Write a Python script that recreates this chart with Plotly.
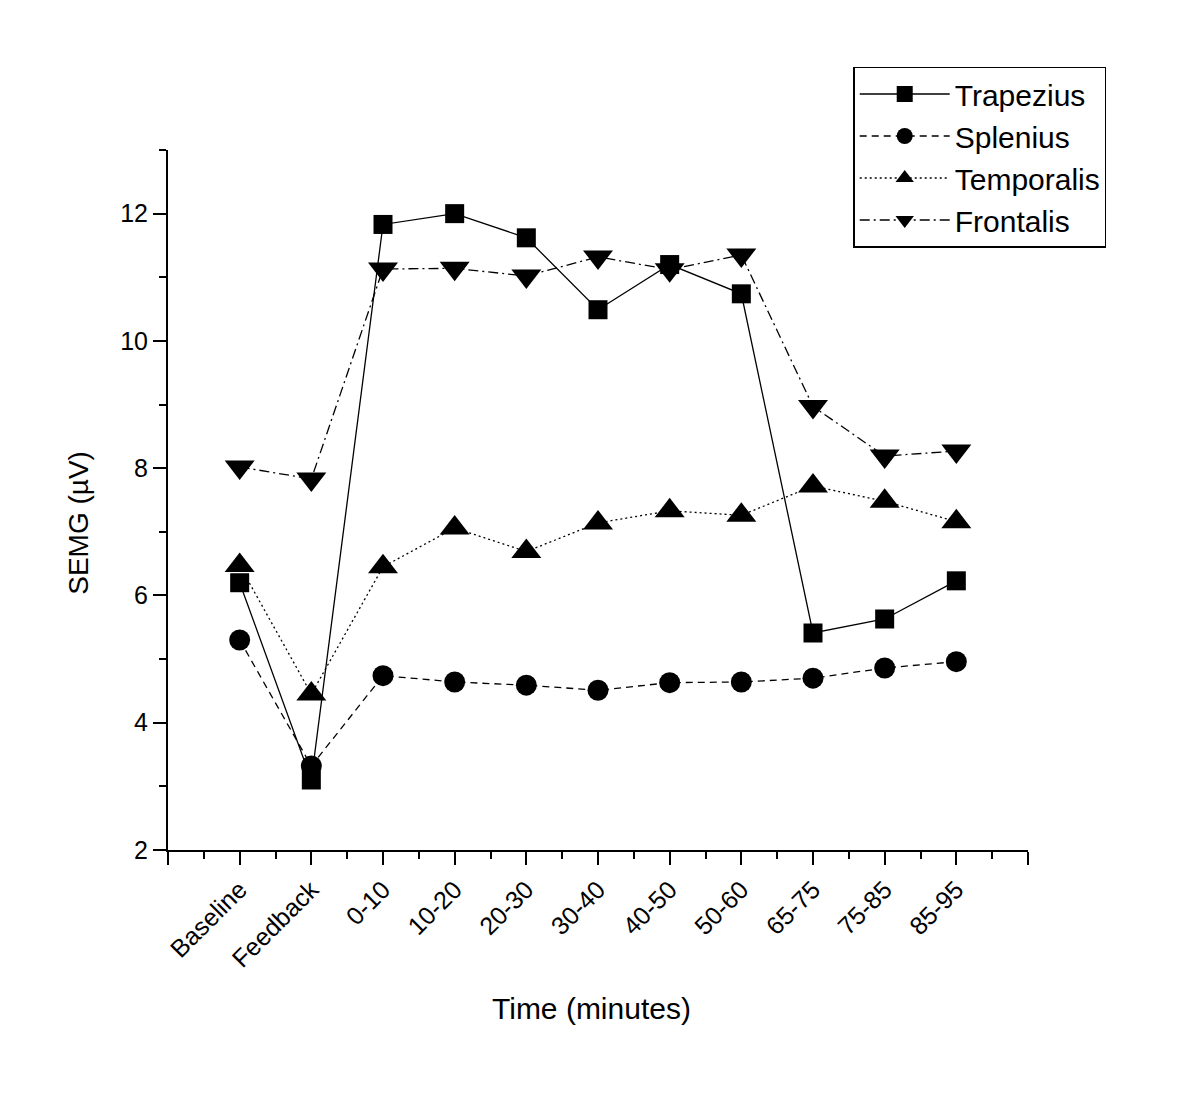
import plotly.graph_objects as go

categories = ["Baseline", "Feedback", "0-10", "10-20", "20-30", "30-40",
              "40-50", "50-60", "65-75", "75-85", "85-95"]
trapezius = [6.20, 3.10, 11.83, 12.00, 11.62, 10.49, 11.20, 10.74, 5.41, 5.63, 6.23]
splenius = [5.30, 3.32, 4.74, 4.64, 4.59, 4.51, 4.63, 4.64, 4.70, 4.86, 4.96]
temporalis = [6.47, 4.45, 6.45, 7.06, 6.69, 7.14, 7.33, 7.26, 7.72, 7.48, 7.16]
frontalis = [8.02, 7.83, 11.13, 11.14, 11.02, 11.32, 11.12, 11.35, 8.97, 8.19, 8.27]

series = [
    ("Trapezius", trapezius, "solid", "square", 19),
    ("Splenius", splenius, "7px,5px", "circle", 21),
    ("Temporalis", temporalis, "2px,3px", "triangle-up", 26),
    ("Frontalis", frontalis, "10px,4px,2px,4px", "triangle-down", 26),
]

x_idx = list(range(len(categories)))
FONT = "Arial, Liberation Sans, sans-serif"

fig = go.Figure()
for name, vals, dash, sym, size in series:
    fig.add_trace(go.Scatter(
        x=x_idx, y=vals, name=name, mode="lines+markers",
        line=dict(color="black", width=1.3, dash=dash),
        marker=dict(symbol=sym, size=size, color="black"),
    ))

major_vals = list(range(-1, len(categories) + 1))
major_text = [""] + categories + [""]
minor_vals = [v + 0.5 for v in range(-1, len(categories))]

fig.update_layout(
    width=1200, height=1096,
    margin=dict(l=160, r=180, t=142, b=254),
    paper_bgcolor="white", plot_bgcolor="white",
    font=dict(family=FONT, color="black", size=25),
    showlegend=True,
    legend=dict(
        x=0.797, y=1.119, xanchor="left", yanchor="top",
        bordercolor="black", borderwidth=1.3, bgcolor="white",
        font=dict(size=30, family=FONT), itemwidth=90,
        tracegroupgap=0, itemsizing="trace",
    ),
    xaxis=dict(
        range=[-1, len(categories)], tickmode="array",
        tickvals=major_vals, ticktext=major_text, tickangle=-45,
        ticks="outside", ticklen=13, tickwidth=2, tickcolor="black",
        showline=True, linecolor="black", linewidth=2,
        showgrid=False, zeroline=False,
        tickfont=dict(size=25, family=FONT),
        minor=dict(tickmode="array", tickvals=minor_vals, ticks="outside",
                   ticklen=7, tickwidth=2, tickcolor="black", showgrid=False),
    ),
    yaxis=dict(
        range=[2, 13], tick0=2, dtick=2,
        ticks="outside", ticklen=13, tickwidth=2, tickcolor="black",
        showline=True, linecolor="black", linewidth=2,
        showgrid=False, zeroline=False,
        tickfont=dict(size=25, family=FONT),
        minor=dict(tick0=3, dtick=2, ticks="outside", ticklen=7,
                   tickwidth=2, tickcolor="black", showgrid=False),
    ),
    annotations=[
        dict(text="SEMG (µV)", xref="paper", yref="paper",
             x=-0.105, y=0.467, xanchor="center", yanchor="middle",
             textangle=-90, showarrow=False, font=dict(size=28, family=FONT)),
        dict(text="Time (minutes)", xref="paper", yref="paper",
             x=0.493, y=-0.226, xanchor="center", yanchor="middle",
             showarrow=False, font=dict(size=30, family=FONT)),
    ],
)

fig.write_html("out.html")
